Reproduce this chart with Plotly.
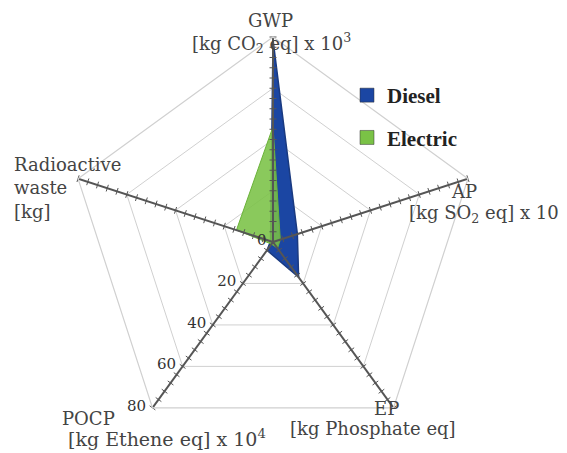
import plotly.graph_objects as go

categories = ["GWP", "AP", "EP", "POCP", "Radioactive waste"]
diesel = [79, 10, 17, 4, 1]
electric = [45, 3, 3, 1, 15]
radial_ticks = [0, 20, 40, 60, 80]
minor_step = 4
r_max = 80
bearings = [0, 72, 144, 216, 288]

DIESEL_FILL = "#1b46a3"
ELECTRIC_FILL = "#7ac246"

fig = go.Figure()

def closed(v):
    return list(v) + [v[0]]

fig.add_trace(go.Scatterpolar(
    r=closed(diesel), theta=closed(categories), name="Diesel",
    fill="toself", fillcolor=DIESEL_FILL, mode="lines",
    line=dict(color="#1a3a80", width=1.5), showlegend=False))
fig.add_trace(go.Scatterpolar(
    r=closed(electric), theta=closed(categories), name="Electric",
    fill="toself", fillcolor="rgba(122,194,70,0.88)", mode="lines",
    line=dict(color="#6bb23a", width=1), showlegend=False))

# spokes
sr, st = [], []
for c in categories:
    sr += [0, r_max, None]
    st += [c, c, None]
fig.add_trace(go.Scatterpolar(r=sr, theta=st, mode="lines",
    line=dict(color="#555555", width=2), showlegend=False, hoverinfo="skip"))

# minor tick marks along spokes
tr, tt, ta = [], [], []
for c, b in zip(categories, bearings):
    for k in range(1, r_max // minor_step + 1):
        tr.append(k * minor_step)
        tt.append(c)
        ta.append(b)
fig.add_trace(go.Scatterpolar(r=tr, theta=tt, mode="markers",
    marker=dict(symbol="line-ew", size=5, angle=ta,
                line=dict(color="#555555", width=1)),
    showlegend=False, hoverinfo="skip"))

# legend entries (square swatches)
for name, col, grp in [("Diesel", DIESEL_FILL, "d"), ("Electric", ELECTRIC_FILL, "e")]:
    fig.add_trace(go.Scatterpolar(r=[None], theta=[None], mode="markers", name="<b>%s</b>" % name,
        marker=dict(symbol="square", size=14, color=col, line=dict(color="#333333", width=0.5)),
        legendgroup=grp, showlegend=True))

W, H = 567, 453
cx, cy, R = 273, 242, 205
fig.update_layout(
    width=W, height=H, margin=dict(l=0, r=0, t=0, b=0),
    paper_bgcolor="white", plot_bgcolor="white",
    font=dict(family="DejaVu Serif", color="#444444"),
    polar=dict(
        domain=dict(x=[(cx - R) / W, (cx + R) / W], y=[(H - cy - R) / H, (H - cy + R) / H]),
        gridshape="linear", bgcolor="white",
        angularaxis=dict(rotation=90, direction="clockwise", showticklabels=False,
                         ticks="", showgrid=False, showline=True,
                         linecolor="#d0d0d0", linewidth=1.2),
        radialaxis=dict(range=[0, r_max], tickvals=radial_ticks, angle=234,
                        showline=False, ticks="", gridcolor="#d0d0d0", gridwidth=1.2,
                        tickfont=dict(family="DejaVu Serif", size=15, color="#333333"),
                        side="clockwise", tickangle=-126),
    ),
    legend=dict(x=347 / W, y=1 - 75 / H, xanchor="left", yanchor="top", bgcolor="rgba(0,0,0,0)",
                font=dict(family="Liberation Serif", size=21, color="#222222"),
                tracegroupgap=12, itemwidth=30),
    showlegend=True,
)

def ann(text, x, y, xanchor="center", align="center", size=18, yanchor="middle"):
    fig.add_annotation(text=text, x=x / W, y=1 - y / H, xref="paper", yref="paper",
                       xanchor=xanchor, yanchor=yanchor, align=align, showarrow=False,
                       font=dict(family="DejaVu Serif", size=size, color="#444444"))

ann("GWP", 270, 20)
ann("[kg CO<sub>2</sub> eq] x 10<sup>3</sup>", 271, 43)
ann("AP", 464, 192)
ann("[kg SO<sub>2</sub> eq] x 10", 484, 214)
ann("EP", 386, 408)
ann("[kg Phosphate eq]", 373, 428)
ann("POCP", 88, 418)
ann("[kg Ethene eq] x 10<sup>4</sup>", 167, 452, yanchor="bottom", size=19)
ann("Radioactive<br>waste<br>[kg]", 12, 188, xanchor="left", align="left")

fig.write_html("out.html", config={"displayModeBar": False},
               post_script="document.body.style.margin='0px';")
